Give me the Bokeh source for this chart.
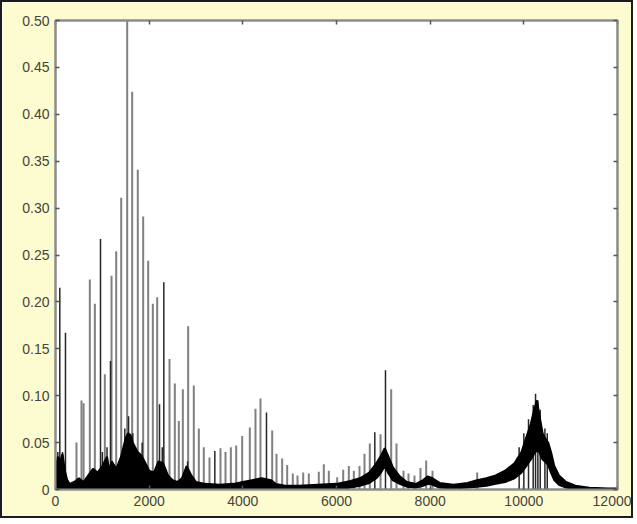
from bokeh.plotting import figure
from bokeh.models import LinearAxis, FixedTicker, Range1d, CustomJSTickFormatter
from bokeh.embed import file_html
from bokeh.resources import INLINE

# ---- axis ticks ----
freq_ticks = [0, 2000, 4000, 6000, 8000, 10000, 12000]
amp_ticks = [0, 0.05, 0.10, 0.15, 0.20, 0.25, 0.30, 0.35, 0.40, 0.45, 0.50]

# ---- harmonic spikes (thin grey lines) ----
spike_freq = [448, 555, 600, 733, 840, 1053, 1196, 1296, 1403, 1531, 1637, 1757,
              1872, 1979, 2078, 2171, 2434, 2548, 2633, 2719, 2833, 2953, 3060,
              3167, 3288, 3523, 3630, 3744, 3858, 3986, 4149, 4270, 4377, 4627,
              4719, 4840, 4947, 5067, 5167, 5289, 5409, 5622, 5729, 5836, 6015,
              6143, 6263, 6370, 6491, 6598, 6711, 6940, 7168, 7281, 7431, 7537,
              7665, 7793, 7915, 8050, 9004]
spike_amp = [0.050, 0.095, 0.092, 0.224, 0.198, 0.123, 0.228, 0.254, 0.311, 0.500,
             0.424, 0.341, 0.291, 0.244, 0.198, 0.205, 0.139, 0.113, 0.073, 0.107,
             0.174, 0.111, 0.065, 0.045, 0.034, 0.044, 0.040, 0.045, 0.047, 0.057,
             0.066, 0.086, 0.097, 0.063, 0.038, 0.033, 0.026, 0.017, 0.015, 0.018,
             0.017, 0.019, 0.027, 0.020, 0.013, 0.021, 0.025, 0.020, 0.025, 0.038,
             0.049, 0.059, 0.107, 0.049, 0.020, 0.017, 0.015, 0.023, 0.031, 0.020,
             0.018]

# ---- darker spikes ----
dark_freq = [50, 92, 150, 213, 961, 1000, 1100, 1174, 1480, 1560, 1650, 1850,
             2221, 2280, 2313, 2820, 3402, 4505, 6818, 7046,
             9900, 10000, 10100, 10200, 10250, 10300, 10350, 10450, 10500]
dark_amp = [0.040, 0.215, 0.040, 0.167, 0.267, 0.040, 0.045, 0.137, 0.065, 0.078,
            0.060, 0.050, 0.091, 0.045, 0.221, 0.030, 0.041, 0.082, 0.061, 0.127,
            0.045, 0.060, 0.075, 0.090, 0.102, 0.095, 0.085, 0.065, 0.060]

# ---- dense noisy band (upper and lower edge) ----
band_freq = [0, 50, 100, 150, 200, 250, 300, 400, 500, 600, 700, 800, 900, 1000,
             1100, 1150, 1200, 1300, 1400, 1450, 1500, 1550, 1600, 1650, 1700,
             1750, 1800, 1850, 1900, 1950, 2000, 2100, 2200, 2300, 2400, 2500,
             2600, 2700, 2800, 2900, 3000, 3200, 3500, 3800, 4000, 4200, 4400,
             4600, 4700, 4900, 5200, 5600, 6000, 6300, 6500, 6700, 6850, 6950,
             7030, 7100, 7200, 7350, 7500, 7700, 7850, 7950, 8050, 8200, 8500,
             8800, 9000, 9200, 9400, 9600, 9800, 9950, 10050, 10150, 10220,
             10280, 10330, 10400, 10450, 10520, 10580, 10650, 10750, 10900,
             11100, 11400, 11800, 12000]
band_hi = [0.020, 0.035, 0.030, 0.038, 0.020, 0.010, 0.006, 0.008, 0.012, 0.008,
           0.015, 0.022, 0.018, 0.025, 0.035, 0.020, 0.030, 0.022, 0.035, 0.045,
           0.055, 0.060, 0.058, 0.050, 0.045, 0.040, 0.038, 0.035, 0.030, 0.025,
           0.020, 0.018, 0.030, 0.028, 0.015, 0.010, 0.008, 0.012, 0.025, 0.015,
           0.008, 0.006, 0.005, 0.006, 0.008, 0.010, 0.012, 0.010, 0.006, 0.004,
           0.004, 0.005, 0.006, 0.009, 0.012, 0.018, 0.028, 0.036, 0.044, 0.036,
           0.024, 0.014, 0.008, 0.006, 0.010, 0.014, 0.012, 0.007, 0.005, 0.007,
           0.010, 0.012, 0.015, 0.020, 0.028, 0.040, 0.055, 0.070, 0.085, 0.095,
           0.080, 0.060, 0.055, 0.050, 0.040, 0.025, 0.015, 0.008, 0.004, 0.002,
           0.001, 0.001]
band_lo = [0, 0, 0, 0, 0, 0, 0, 0, 0, 0,
           0, 0, 0, 0, 0, 0, 0, 0, 0, 0,
           0, 0, 0, 0, 0, 0, 0, 0, 0, 0,
           0, 0, 0, 0, 0, 0, 0, 0, 0, 0,
           0, 0, 0, 0, 0, 0, 0, 0, 0, 0,
           0, 0, 0, 0.002, 0.004, 0.007, 0.012, 0.018, 0.025, 0.018,
           0.010, 0.006, 0.003, 0.002, 0.004, 0.006, 0.005, 0.002, 0.001, 0.002,
           0.003, 0.004, 0.006, 0.008, 0.012, 0.018, 0.025, 0.032, 0.038, 0.042,
           0.040, 0.032, 0.030, 0.026, 0.018, 0.010, 0.005, 0.002, 0.000, 0.000,
           0.000, 0.000]

YELLOW = "#fdfcd0"
GREY = "#8c8c8c"
LABEL = "#44443a"

p = figure(width=633, height=518, output_backend="svg", toolbar_location=None,
           x_range=Range1d(0, 12000), y_range=Range1d(0, 0.5),
           min_border_left=53, min_border_right=18, min_border_top=18,
           min_border_bottom=31, x_axis_location=None, y_axis_location=None)
p.styles = {"border": "2px solid #1c1c1c"}
p.background_fill_color = "white"
p.border_fill_color = YELLOW
p.grid.visible = False
p.outline_line_color = GREY
p.outline_line_width = 2

yfmt = CustomJSTickFormatter(code="return tick == 0 ? '0' : tick.toFixed(2);")
blank = CustomJSTickFormatter(code="return '';")

def make_axis(ticks, labels, fmt=None):
    ax = LinearAxis(ticker=FixedTicker(ticks=ticks))
    ax.axis_line_color = GREY
    ax.axis_line_width = 2
    ax.major_tick_in = 4
    ax.major_tick_out = 0
    ax.major_tick_line_color = "#555555"
    ax.major_tick_line_width = 1.5
    ax.minor_tick_line_color = None
    if labels:
        if fmt is not None:
            ax.formatter = fmt
        ax.major_label_text_font = "Liberation Sans"
        ax.major_label_text_font_size = "14px"
        ax.major_label_text_color = LABEL
        ax.major_label_standoff = 6
    else:
        ax.formatter = blank
        ax.major_label_standoff = 0
    return ax

p.add_layout(make_axis(freq_ticks, True), "below")
p.add_layout(make_axis(amp_ticks, True, yfmt), "left")
p.add_layout(make_axis(freq_ticks, False), "above")
p.add_layout(make_axis(amp_ticks, False), "right")

zeros = [0] * len(spike_freq)
p.segment(x0=spike_freq, y0=zeros, x1=spike_freq, y1=spike_amp,
          line_color="#808080", line_width=2)
dzeros = [0] * len(dark_freq)
p.segment(x0=dark_freq, y0=dzeros, x1=dark_freq, y1=dark_amp,
          line_color="#262626", line_width=1.5)

p.varea(x=band_freq, y1=band_lo, y2=band_hi, fill_color="black")
p.line(band_freq, band_hi, line_color="black", line_width=2)
p.line(band_freq, band_lo, line_color="black", line_width=2)

open("out.html", "w").write(file_html(p, INLINE))
